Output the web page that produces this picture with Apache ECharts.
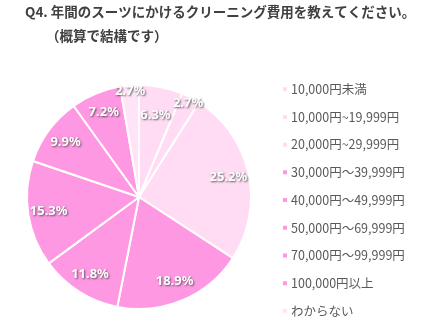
<!DOCTYPE html>
<html><head><meta charset="utf-8">
<script src="https://cdn.jsdelivr.net/npm/echarts@6/dist/echarts.min.js"></script>
<style>html,body{margin:0;padding:0;background:#fff}#c{width:426px;height:330px}</style>
</head><body><div id="c"></div>
<script>
const categories = ['10,000円未満','10,000円~19,999円','20,000円~29,999円','30,000円～39,999円','40,000円～49,999円','50,000円～69,999円','70,000円～99,999円','100,000円以上','わからない'];
const values = [6.3, 2.7, 25.2, 18.9, 11.8, 15.3, 9.9, 7.2, 2.7];
const colors = ['#FFDCF4','#FFDCF4','#FFDCF4','#FF98E3','#FF98E3','#FF98E3','#FF98E3','#FF98E3','#FFE3F7'];
const titleLines = ['Q4. 年間のスーツにかけるクリーニング費用を教えてください。', '（概算で結構です）'];

const center = [139, 197];
const R = 112;
// label rings: [indices, relative radius]
const labelGroups = [
  [[0], 0.72],
  [[2,3,4,5,6,7], 0.79],
  [[1,8], 0.92]
];

const chart = echarts.init(document.getElementById('c'), null, {renderer:'canvas'});
const baseData = categories.map((n,i)=>({name:n, value:values[i], itemStyle:{color:colors[i]}}));
const series = [{
  type:'pie', center, radius:[0,R], startAngle:90, clockwise:true,
  avoidLabelOverlap:false, silent:true,
  label:{show:false}, labelLine:{show:false},
  itemStyle:{borderColor:'#fff', borderWidth:2},
  data: baseData
}];
labelGroups.forEach(([idx,k])=>{
  series.push({
    type:'pie', center, radius:[0, 2*k*R], startAngle:90, clockwise:true,
    avoidLabelOverlap:false, silent:true, legendHoverLink:false,
    itemStyle:{color:'transparent', borderWidth:0},
    labelLine:{show:false},
    label:{show:true, position:'inside', color:'#fff', fontWeight:'bold', fontSize:13,
      fontFamily:'"Noto Sans", "DejaVu Sans", sans-serif',
      textBorderWidth:0,
      textShadowColor:'rgba(60,60,60,0.8)', textShadowBlur:2, textShadowOffsetX:1, textShadowOffsetY:1,
      formatter:(p)=> idx.includes(p.dataIndex) ? p.value.toFixed(1)+'%' : ''},
    data: categories.map((n,i)=>({name:n, value:values[i], itemStyle:{color:'transparent'}}))
  });
});

const titleStyle = {fontSize:13.5, fontWeight:'bold', color:'#404040', fontFamily:'"Noto Sans CJK JP", sans-serif'};
chart.setOption({
  animation:false,
  title:[
    {text:titleLines[0], left:25, top:5, padding:0, textStyle:titleStyle},
    {text:titleLines[1], left:46, top:29, padding:0, textStyle:titleStyle}
  ],
  legend:{orient:'vertical', left:276, top:78, icon:'rect', itemWidth:6, itemHeight:6, itemGap:15.2,
    data: categories,
    textStyle:{fontSize:12.5, color:'#595959', fontFamily:'"Noto Sans CJK JP", sans-serif', padding:[0,0,0,-2]},
    selectedMode:false},
  color: colors,
  series
});
</script></body></html>
